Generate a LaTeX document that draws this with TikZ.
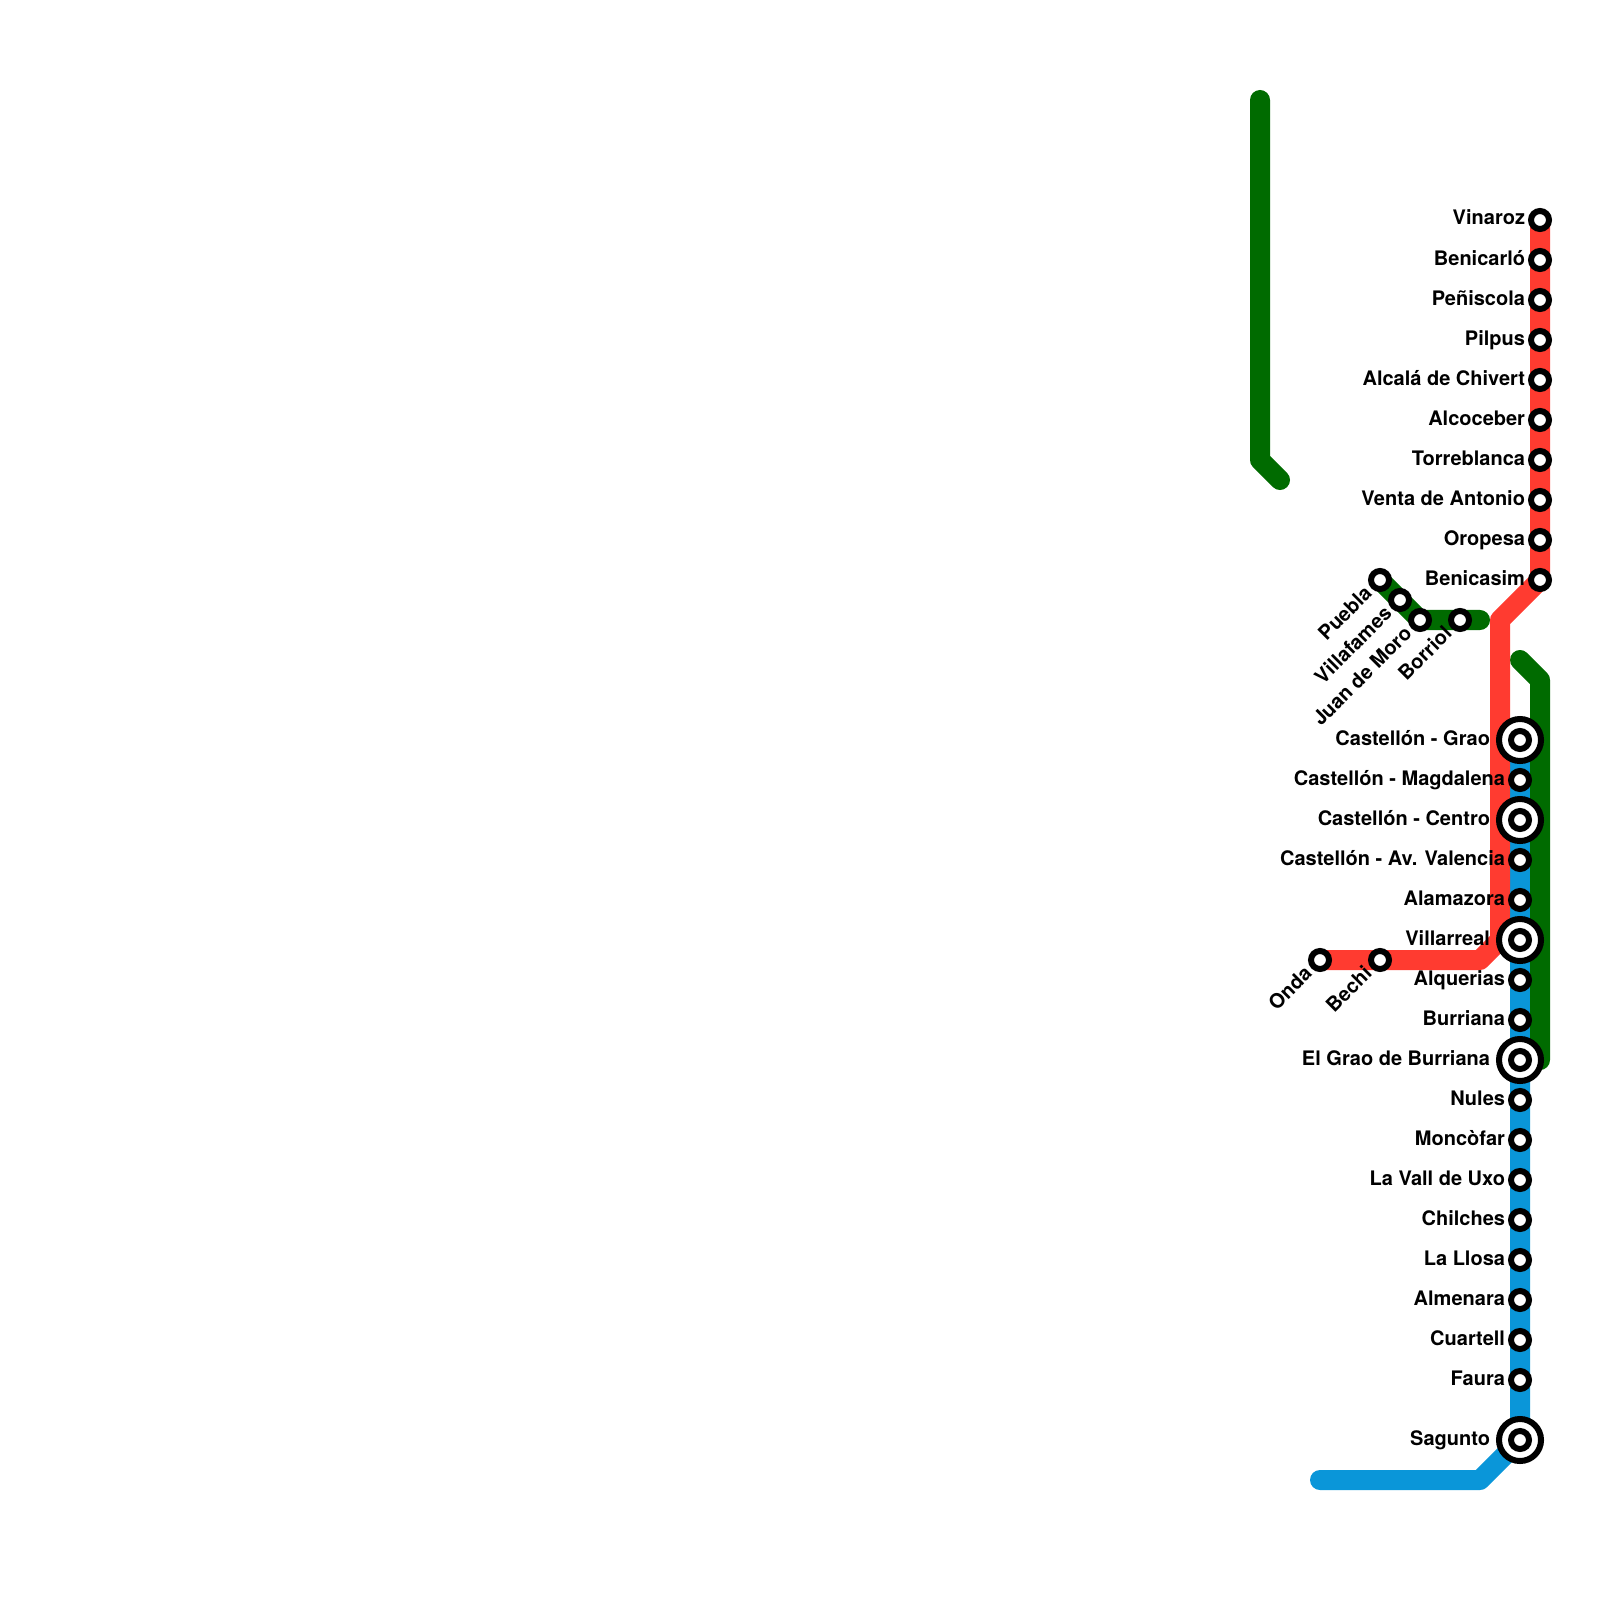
\documentclass[tikz,border=0pt]{standalone}
\usepackage{fontspec}
\setmainfont{TeX Gyre Heros}
\usetikzlibrary{positioning}
\definecolor{LineRed}{HTML}{FF3B30}
\definecolor{LineBlue}{HTML}{0A96D9}
\definecolor{LineGreen}{HTML}{006B00}
\tikzset{
  railline/.style={line width=2mm, line cap=round, line join=round},
  stop/.style={circle, draw=black, fill=white, line width=0.6mm, minimum size=1.8mm, inner sep=0pt, outer sep=0pt},
  hub/.style={circle, draw=black, fill=white, line width=0.6mm, minimum size=4.2mm, inner sep=0pt, outer sep=0pt},
  hubcore/.style={circle, draw=black, fill=white, line width=0.6mm, minimum size=1.8mm, inner sep=0pt, outer sep=0pt},
  stoplabel/.style={font=\bfseries\fontsize{5.69}{7}\selectfont, text=black, inner sep=0pt, outer sep=0pt, anchor=base east}
}
\begin{document}
\begin{tikzpicture}[x=0.01cm,y=-0.01cm]
        \useasboundingbox (0,0) rectangle (1600,1600);
        % corners and free ends
        \coordinate (nwtop) at (1260,100);
        \coordinate (nwbend) at (1260,460);
        \coordinate (nwend) at (1280,480);
        \coordinate (borriolend) at (1480,620);
        \coordinate (northbend) at (1500,620);
        \coordinate (ondabend) at (1480,960);
        \coordinate (westbend) at (1500,940);
        \coordinate (eaststart) at (1520,660);
        \coordinate (eastbend) at (1540,680);
        \coordinate (eastend) at (1540,1060);
        \coordinate (southbend) at (1480,1480);
        \coordinate (southend) at (1320,1480);
        \coordinate (vinaroz) at (1540,220);
        \coordinate (benicasim) at (1540,580);
        \coordinate (onda) at (1320,960);
        \coordinate (puebla) at (1380,580);
        \coordinate (juan) at (1420,620);
        \coordinate (grao) at (1520,740);
        \coordinate (sagunto) at (1520,1440);
        % lines
        \draw[railline, LineBlue] (grao) -- (sagunto) -- (southbend) -- (southend);
        \draw[railline, LineGreen] (nwtop) -- (nwbend) -- (nwend);
        \draw[railline, LineGreen] (puebla) -- (juan) -- (borriolend);
        \draw[railline, LineGreen] (eaststart) -- (eastbend) -- (eastend);
        \draw[railline, LineRed] (vinaroz) -- (benicasim) -- (northbend) -- (westbend) -- (ondabend) -- (onda);
        % red line, north
        \foreach \i/\lab in {0/Vinaroz, 1/Benicarló, 2/Peñiscola, 3/Pilpus, 4/Alcalá de Chivert, 5/Alcoceber, 6/Torreblanca, 7/Venta de Antonio, 8/Oropesa, 9/Benicasim}{
          \node[stoplabel] (northlab\i) at (1525,225+\i*40) {\lab};
          \node[stop] (north\i) at (1540,220+\i*40) {};
        }
        % blue line
        \foreach \y/\lab in {780/Castellón - Magdalena, 860/Castellón - Av. Valencia, 900/Alamazora, 980/Alquerias, 1020/Burriana, 1100/Nules, 1140/Moncòfar, 1180/La Vall de Uxo, 1220/Chilches, 1260/La Llosa, 1300/Almenara, 1340/Cuartell, 1380/Faura}{
          \node[stoplabel] (bluelab\y) at (1505,\y+5) {\lab};
          \node[stop] (blue\y) at (1520,\y) {};
        }
        % interchanges
        \foreach \y/\lab in {740/Castellón - Grao, 820/Castellón - Centro, 940/Villarreal, 1060/El Grao de Burriana, 1440/Sagunto}{
          \node[stoplabel] (hublab\y) at (1490,\y+5) {\lab};
          \node[hub] (hub\y) at (1520,\y) {};
          \node[hubcore] (core\y) at (1520,\y) {};
        }
        % branches
        \foreach \x/\y/\lab in {1380/580/Puebla, 1400/600/Villafames, 1420/620/Juan de Moro, 1460/620/Borriol, 1320/960/Onda, 1380/960/Bechi}{
          \node[stoplabel, rotate=45] (branchlab\x\y) at (\x-7,\y+15) {\lab};
          \node[stop] (branch\x\y) at (\x,\y) {};
        }
      \end{tikzpicture}
\end{document}
